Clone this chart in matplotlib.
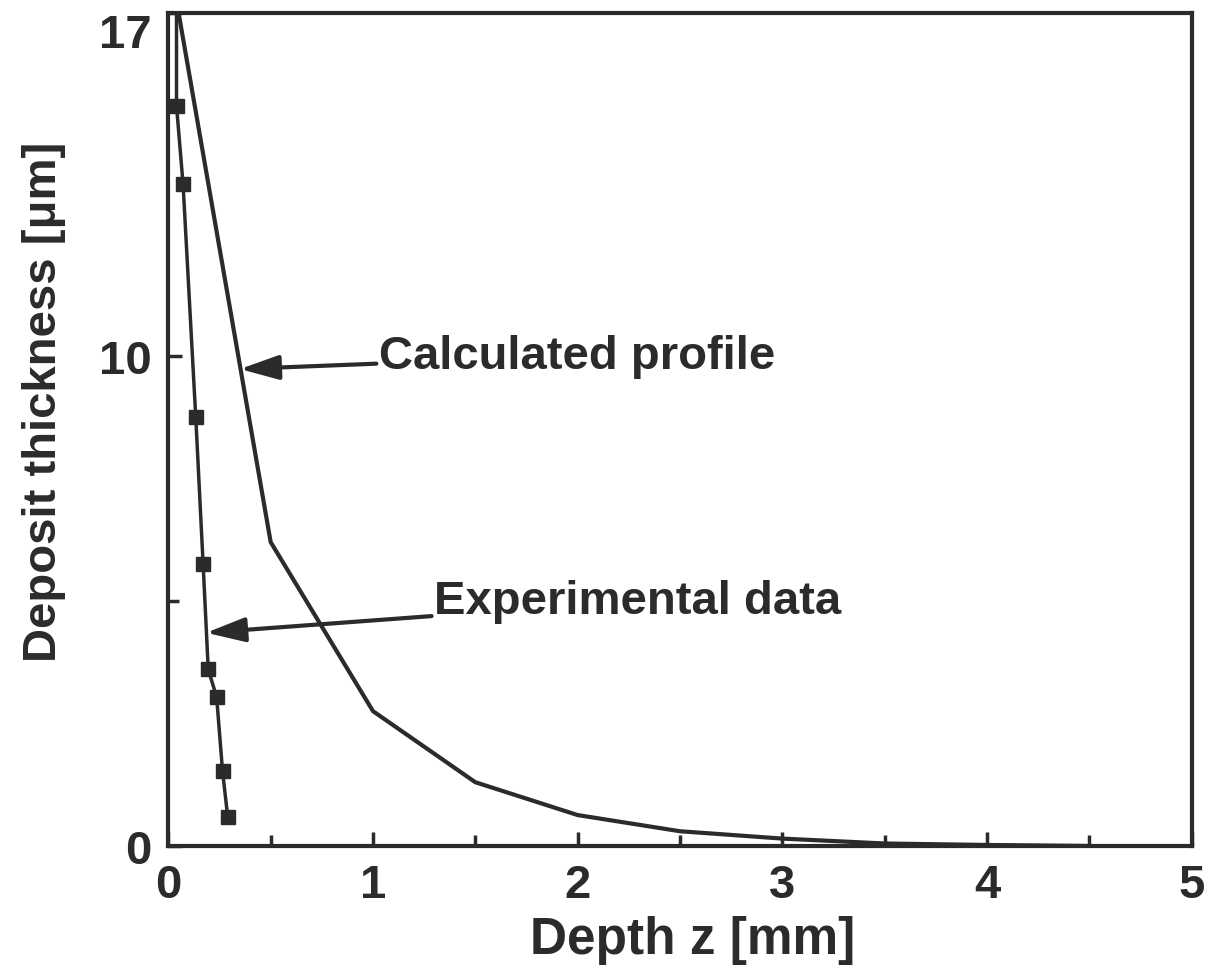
import matplotlib
matplotlib.use("Agg")
from matplotlib import pyplot as plt

# profil calcule
z_calc = [0.05, 0.5, 1.0, 1.5, 2.0, 2.5, 3.0, 3.5, 4.0, 4.5]
e_calc = [17.0, 6.2, 2.75, 1.3, 0.63, 0.3, 0.15, 0.05, 0.02, 0.0]

# mesures
z_exp = [0.04, 0.072, 0.134, 0.17, 0.195, 0.236, 0.265, 0.29]
e_exp = [15.1, 13.5, 8.75, 5.75, 3.6, 3.04, 1.52, 0.6]
z_exp_start = 0.04
e_exp_start = 17.0

ink = '#2b2b2b'

plt.rcParams['font.family'] = ['Liberation Sans', 'DejaVu Sans']
plt.rcParams['font.weight'] = 'bold'
plt.rcParams['axes.labelweight'] = 'bold'

fig = plt.figure(figsize=(12.11, 9.78), dpi=100)
ax = fig.add_axes([0.139, 0.134, 0.845, 0.852])

ax.plot(z_calc, e_calc, color=ink, lw=3)
ax.plot([z_exp_start] + z_exp, [e_exp_start] + e_exp, color=ink, lw=2.5,
        marker='s', markersize=10, markevery=list(range(1, len(z_exp) + 1)))

ax.set_xlim(0, 5)
ax.set_ylim(0, 17)
ax.set_xticks([0, 1, 2, 3, 4, 5])
ax.set_xticks([0.5, 1.5, 2.5, 3.5, 4.5], minor=True)
ax.set_yticks([0, 10, 17])
ax.set_yticks([5], minor=True)
ax.tick_params(direction='in', length=10, width=2.5, colors=ink, labelsize=34, pad=12)
ax.tick_params(which='minor', direction='in', length=8, width=2.5, colors=ink)
for s in ax.spines.values():
    s.set_linewidth(3)
    s.set_color(ink)
# le 17 est colle au haut du cadre
ax.get_yticklabels()[-1].set_verticalalignment('top')

ax.set_xlabel('Depth z [mm]', fontsize=37, color=ink)
ax.xaxis.set_label_coords(0.512, -0.083)
ax.set_ylabel('Deposit thickness [\u03bcm]', fontsize=34, color=ink)
ax.yaxis.set_label_coords(-0.1, 0.534)

arrow = dict(arrowstyle='-|>,head_length=0.7,head_width=0.22', color=ink, lw=3,
             shrinkA=0, shrinkB=0)
ax.annotate('Calculated profile', xy=(0.35, 9.73), xytext=(1.03, 10.0),
            fontsize=34, color=ink, va='center', ha='left', arrowprops=arrow)
ax.annotate('Experimental data', xy=(0.185, 4.35), xytext=(1.3, 5.0),
            fontsize=34, color=ink, va='center', ha='left', arrowprops=arrow)

fig.savefig('out.png', dpi=100)
